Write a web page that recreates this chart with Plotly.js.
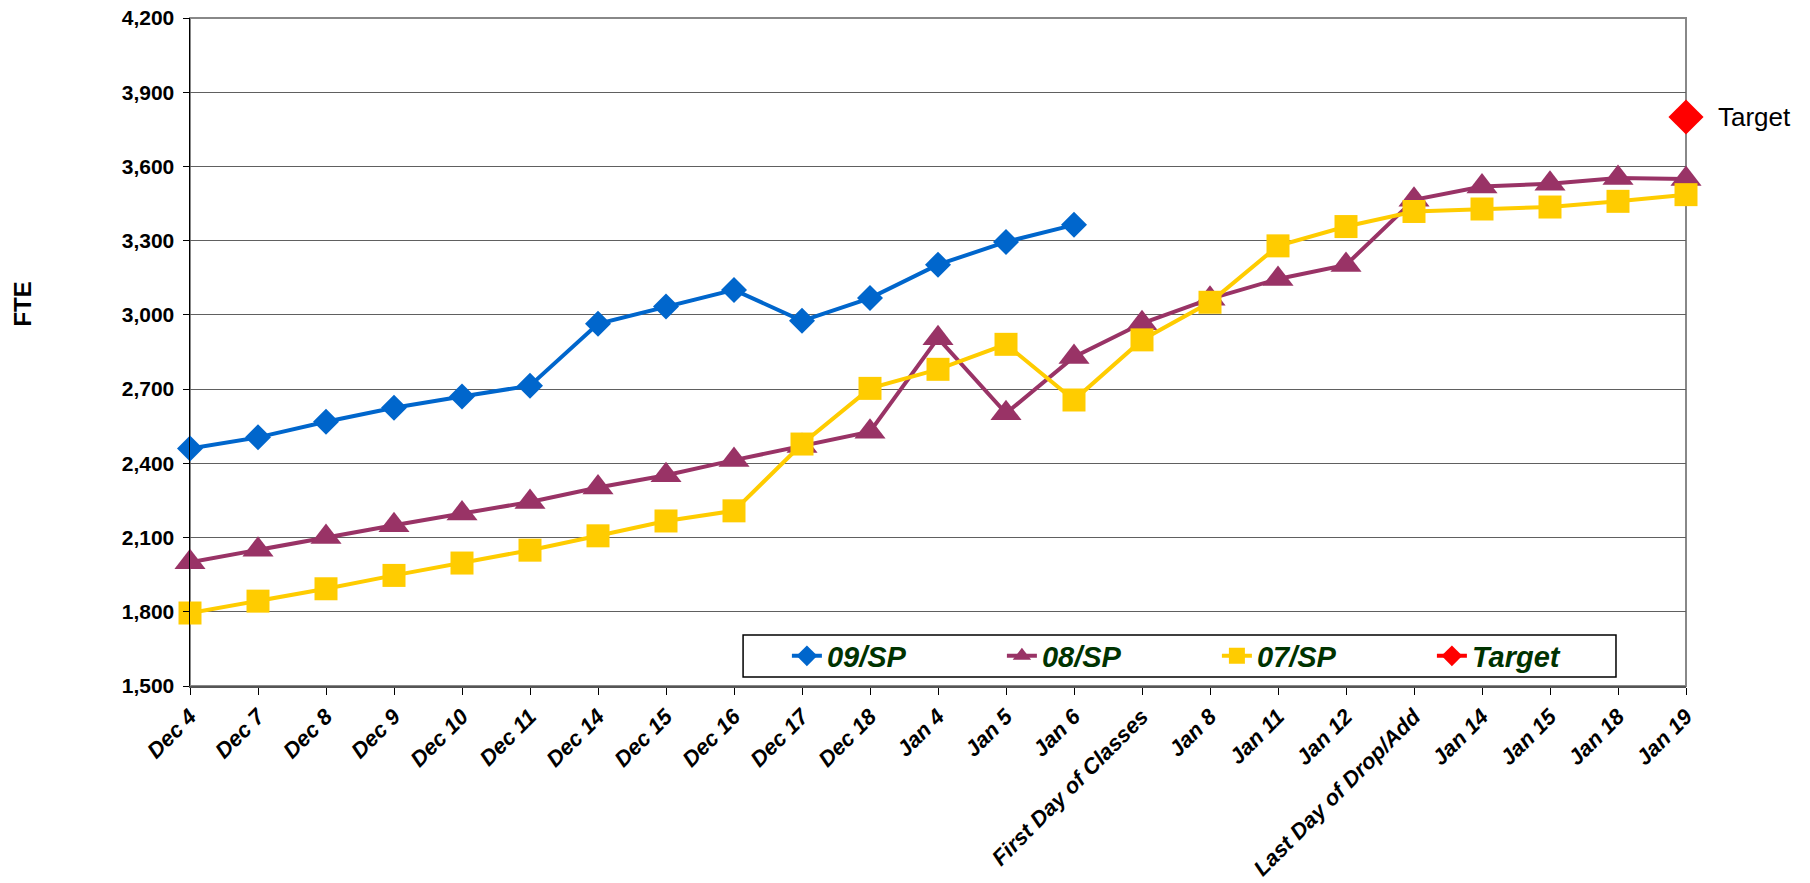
<!DOCTYPE html>
<html><head><meta charset="utf-8">
<script src="https://cdn.plot.ly/plotly-3.0.1.min.js"></script>
<style>html,body{margin:0;padding:0;background:#fff}#chart{width:1810px;height:883px}</style>
</head><body><div id="chart"></div>
<script>
const categories = ["Dec 4","Dec 7","Dec 8","Dec 9","Dec 10","Dec 11","Dec 14","Dec 15","Dec 16","Dec 17","Dec 18","Jan 4","Jan 5","Jan 6","First Day of Classes","Jan 8","Jan 11","Jan 12","Last Day of Drop/Add","Jan 14","Jan 15","Jan 18","Jan 19"];
const sp09 = [2460,2505,2568,2625,2670,2714,2964,3034,3101,2976,3068,3203,3295,3364];
const sp08 = [2000,2051,2102,2150,2197,2244,2302,2352,2413,2470,2528,2906,2602,2830,2966,3065,3145,3202,3465,3519,3530,3553,3549];
const sp07 = [1795,1843,1893,1947,1997,2049,2107,2167,2208,2478,2703,2780,2881,2656,2899,3051,3279,3357,3418,3428,3436,3459,3486];
const targetCategory = ["Jan 19"];
const targetValue = [3800];
const seriesNames = ["09/SP","08/SP","07/SP","Target"];
const yTicks = [1500,1800,2100,2400,2700,3000,3300,3600,3900,4200];

const FONT = 'Liberation Sans, Arial, sans-serif';

const traces = [
  {x: categories.slice(0, sp09.length), y: sp09, name: seriesNames[0], mode: 'lines+markers', cliponaxis: false,
   line: {color: '#0066CC', width: 4}, marker: {symbol: 'diamond', size: 20, color: '#0066CC'}},
  {x: categories, y: sp08, name: seriesNames[1], mode: 'lines+markers', cliponaxis: false,
   line: {color: '#993366', width: 4}, marker: {symbol: 'triangle-up', size: 27, color: '#993366'}},
  {x: categories, y: sp07, name: seriesNames[2], mode: 'lines+markers', cliponaxis: false,
   line: {color: '#FFCC00', width: 4}, marker: {symbol: 'square', size: 23, color: '#FFCC00'}},
  {x: targetCategory, y: targetValue, name: seriesNames[3], mode: 'lines+markers', cliponaxis: false,
   line: {color: '#FF0000', width: 4}, marker: {symbol: 'diamond', size: 27, color: '#FF0000'}}
];

const layout = {
  width: 1810, height: 883,
  paper_bgcolor: '#ffffff', plot_bgcolor: '#ffffff',
  margin: {l: 190, r: 124, t: 18, b: 197},
  showlegend: true,
  legend: {orientation: 'h', x: 0.399, xanchor: 'left', y: 0.045, yanchor: 'middle',
    borderwidth: 0, bgcolor: 'rgba(0,0,0,0)',
    font: {family: FONT, size: 29, color: '#003300', weight: 'bold', style: 'italic'},
    entrywidth: 170, entrywidthmode: 'pixels', traceorder: 'normal'},
  xaxis: {type: 'category', range: [0, categories.length - 1], tickangle: -45,
    showline: true, linecolor: '#555555', linewidth: 2, ticks: 'outside', ticklen: 7, tickcolor: '#000000',
    showgrid: false, zeroline: false,
    tickfont: {family: FONT, size: 22, color: '#000000', weight: 'bold', style: 'italic'}},
  yaxis: {range: [1500, 4200], tickvals: yTicks, tickformat: ',d',
    showline: true, linecolor: '#000000', linewidth: 1.5, ticks: 'outside', ticklen: 6, tickcolor: '#000000',
    ticklabelstandoff: 4,
    showgrid: true, gridcolor: '#606060', gridwidth: 1, zeroline: false,
    tickfont: {family: FONT, size: 21, color: '#000000', weight: 'bold'}},
  shapes: [
    {type: 'rect', xref: 'paper', yref: 'paper', x0: 0, x1: 1, y0: 0, y1: 1,
     line: {color: '#888888', width: 2}, layer: 'below'},
    {type: 'rect', xref: 'paper', yref: 'paper', x0: 0.3697, x1: 0.9532, y0: 0.0135, y1: 0.0765,
     line: {color: '#000000', width: 1.5}, fillcolor: '#ffffff', layer: 'above'}
  ],
  annotations: [
    {x: targetCategory[0], y: targetValue[0], xref: 'x', yref: 'y', text: 'Target', showarrow: false,
     xanchor: 'left', yanchor: 'middle', xshift: 30,
     font: {family: FONT, size: 26, color: '#000000'}},
    {x: -0.1116, y: 0.571, xref: 'paper', yref: 'paper', text: 'FTE', showarrow: false, textangle: -90,
     xanchor: 'center', yanchor: 'middle',
     font: {family: FONT, size: 24, color: '#000000', weight: 'bold'}}
  ]
};

Plotly.newPlot('chart', traces, layout, {displayModeBar: false, staticPlot: true});
</script>
</body></html>
